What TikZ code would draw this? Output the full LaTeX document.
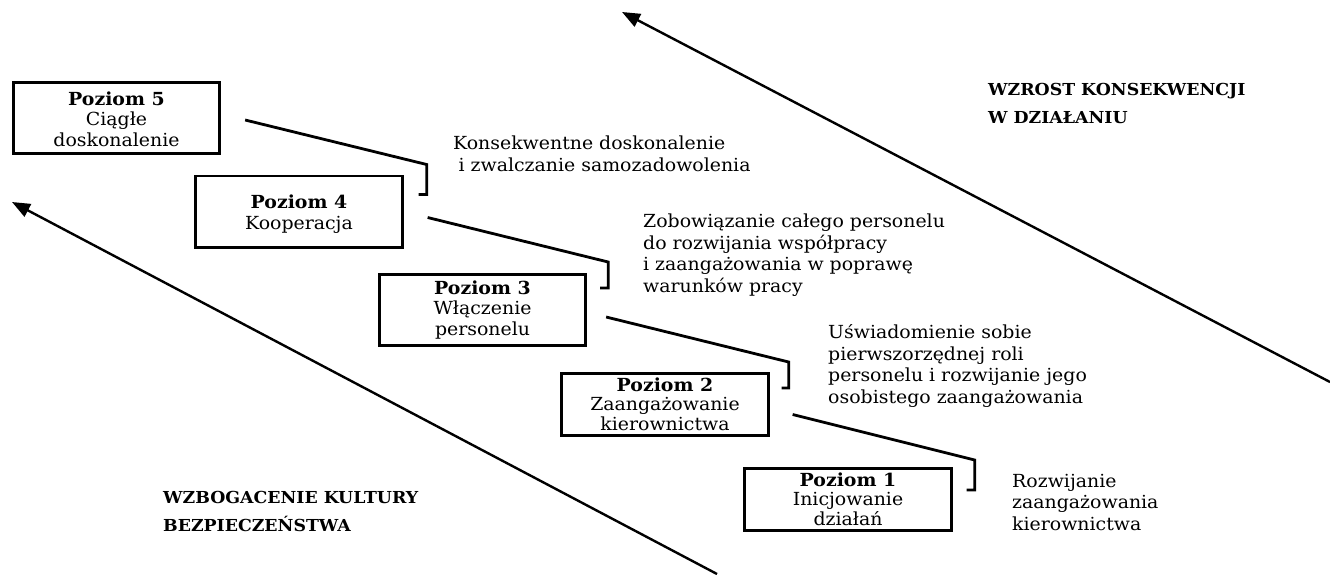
\documentclass[tikz,border=0pt]{standalone}
\usepackage{fontspec}
\setmainfont{DejaVu Serif}[FakeStretch=1.05]
\usetikzlibrary{calc,arrows.meta}

\newcommand{\lvlfont}{\fontsize{18}{21.5}\selectfont}
\newcommand{\boxfont}{\fontsize{18}{20.5}\selectfont}
\newcommand{\tightfont}{\fontsize{18}{19.5}\selectfont}
\newcommand{\headfont}{\fontsize{16.5}{27.5}\selectfont\bfseries}
% centred lines whose last baseline sits #1 below the box centre
\newcommand{\boxlines}[2]{\raisebox{-#1}[0pt][0pt]{\begin{tabular}[b]{@{}c@{}}#2\end{tabular}}}

\begin{document}
\begin{tikzpicture}[x=1pt,y=-1pt,
  levelbox/.style={draw, line width=2.8pt, inner sep=0pt,
    font=\boxfont, minimum width=206.5pt, minimum height=71.2pt},
  shortbox/.style={levelbox, font=\tightfont, minimum height=62.2pt},
  stair/.style={line width=2.8pt, line join=miter},
  note/.style={anchor=base west, align=left, inner sep=0pt, font=\lvlfont},
  heading/.style={anchor=base west, align=left, inner sep=0pt, font=\headfont},
  trend/.style={line width=2.4pt, -{Triangle[length=18pt,width=14pt]}}]

\useasboundingbox (0,0) rectangle (1330,574);

% level boxes
\node[levelbox] (p5) at (116.5,118) {\boxlines{28pt}{\textbf{Poziom 5}\\Ciągłe\\doskonalenie}};
\node[levelbox] (p4) at (299,211.5) {\boxlines{17.5pt}{\textbf{Poziom 4}\\Kooperacja}};
\node[levelbox] (p3) at (482.5,310) {\boxlines{25pt}{\textbf{Poziom 3}\\Włączenie\\personelu}};
\node[shortbox] (p2) at (665,404.5) {\boxlines{26pt}{\textbf{Poziom 2}\\Zaangażowanie\\kierownictwa}};
\node[shortbox] (p1) at (848,499.5) {\boxlines{26pt}{\textbf{Poziom 1}\\Inicjowanie\\działań}};

% stair connectors between consecutive levels
\draw[stair] ($(p5.east)+(24,2)$) -- ($(p4.north east)+(23,-10)$)
  -- ($(p4.north east)+(23,20)$) -- ($(p4.north east)+(15,20)$);
\draw[stair] ($(p4.east)+(24,6)$) -- ($(p3.north east)+(21,-11)$)
  -- ($(p3.north east)+(21,15)$) -- ($(p3.north east)+(13,15)$);
\draw[stair] ($(p3.east)+(19,7)$) -- ($(p2.north east)+(19,-10)$)
  -- ($(p2.north east)+(19,16)$) -- ($(p2.north east)+(12,16)$);
\draw[stair] ($(p2.east)+(23,10)$) -- ($(p1.north east)+(22,-7)$)
  -- ($(p1.north east)+(22,23)$) -- ($(p1.north east)+(14,23)$);

% step descriptions (positioned by the baseline of their last line)
\node[note] (t5) at (453,171) {Konsekwentne doskonalenie\\\hspace*{0.3em}i zwalczanie samozadowolenia};
\node[note] (t4) at (643,292) {Zobowiązanie całego personelu\\do rozwijania współpracy\\i zaangażowania w poprawę\\warunków pracy};
\node[note] (t3) at (828,403) {Uświadomienie sobie\\pierwszorzędnej roli\\personelu i rozwijanie jego\\osobistego zaangażowania};
\node[note] (t2) at (1012,530) {Rozwijanie\\zaangażowania\\kierownictwa};

% trend arrows and their captions
\coordinate (ua) at (1330,382);
\coordinate (ub) at (622,12);
\coordinate (la) at (717,574);
\coordinate (lb) at (12,202);
\draw[trend] (ua) -- (ub);
\draw[trend] (la) -- (lb);

\node[heading] (h1) at (988,123) {WZROST KONSEKWENCJI\\W DZIAŁANIU};
\node[heading] (h2) at (163,531) {WZBOGACENIE KULTURY\\BEZPIECZEŃSTWA};
\end{tikzpicture}
\end{document}
